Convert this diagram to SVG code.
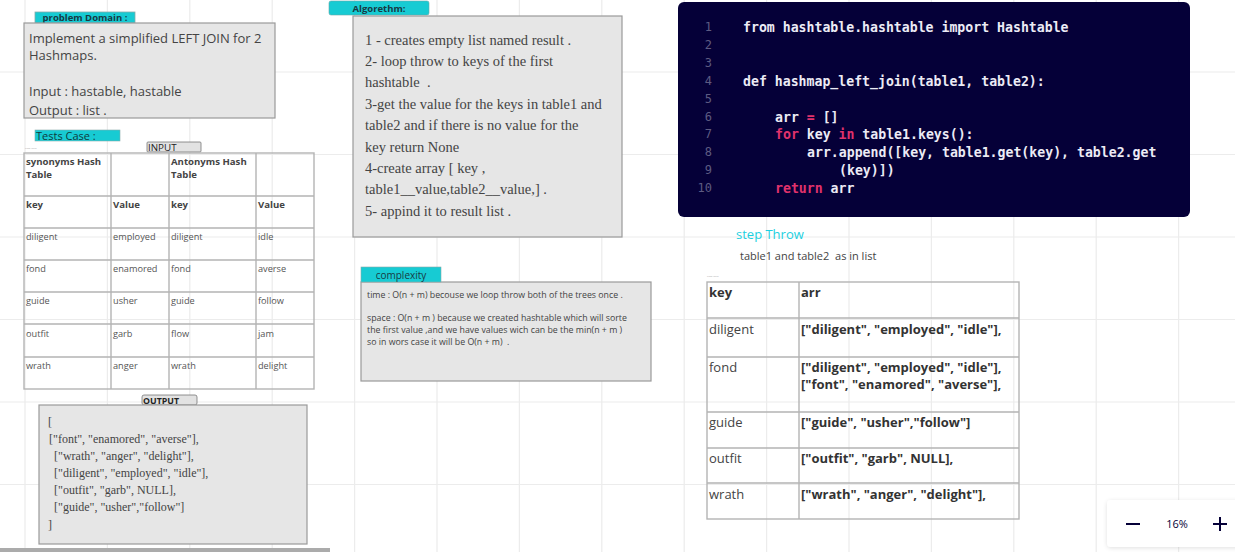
<svg xmlns="http://www.w3.org/2000/svg" width="1235" height="552" viewBox="0 0 1235 552">
<style>
.grid{stroke:#ececec;stroke-width:1.2;fill:none}
.tag{fill:#17cbd3;stroke:#8aa;stroke-width:0.8}
.tagt{font-family:"Open Sans",sans-serif;font-weight:700;font-size:9.5px;fill:#173a44;text-anchor:middle}
.box{fill:#e6e6e6;stroke:#9a9a9a;stroke-width:1.2}
.sans{font-family:"Open Sans",sans-serif;fill:#444}
.serif{font-family:"Liberation Serif",serif;fill:#444}
.cell{fill:none;stroke:#b4b4b4;stroke-width:1.4}
.t9{font-family:"Open Sans",sans-serif;font-size:9.2px;fill:#555}
.t9b{font-family:"Open Sans",sans-serif;font-size:9.6px;font-weight:700;fill:#444}
.t11{font-family:"Open Sans",sans-serif;font-size:13px;fill:#444}
.t11b{font-family:"Open Sans",sans-serif;font-size:13px;font-weight:700;fill:#333}
.code{font-family:"DejaVu Sans Mono",monospace;font-size:13.2px;font-weight:700;fill:#ecebf5}
.kw{fill:#e0326c}
.ln{font-family:"DejaVu Sans Mono",monospace;font-size:12px;fill:#5d5b82;text-anchor:end}
.tiny{font-family:"Open Sans",sans-serif;font-size:2.5px;fill:#aaa}
.lbl{fill:#e2e2e2;stroke:#777;stroke-width:0.8}
</style>
<defs>
<clipPath id="pclip"><rect x="24" y="23" width="251" height="95"/></clipPath>
<filter id="sh" x="-20%" y="-20%" width="140%" height="140%"><feDropShadow dx="0" dy="1" stdDeviation="2" flood-color="#000" flood-opacity="0.12"/></filter>
</defs>
<rect width="1235" height="552" fill="#ffffff"/>
<g id="grid">
<path class="grid" d="M25 0V552M107.4 0V552M189.8 0V552M272.2 0V552M354.6 0V552M437 0V552M519.4 0V552M601.8 0V552M684.2 0V552M766.6 0V552M849 0V552M931.4 0V552M1013.8 0V552M1096.2 0V552M1178.6 0V552M0 72H1235M0 154.5H1235M0 237H1235M0 319.5H1235M0 402H1235M0 484.5H1235"/>
</g>
<g id="connectors"></g>

<g id="problem-domain">
<rect class="tag" x="35" y="12" width="100" height="11"/>
<text class="tagt" x="85" y="20.8">problem Domain :</text>
<rect class="box" x="24" y="23" width="251" height="95"/>
<g clip-path="url(#pclip)" class="sans" font-size="13">
<text x="29" y="43">Implement a simplified LEFT JOIN for 2</text>
<text x="29" y="60">Hashmaps.</text>
<text x="29" y="96">Input : hastable, hastable</text>
<text x="29" y="115">Output : list .</text>
</g>
</g>

<g id="tests-case">
<rect x="35" y="130" width="85" height="11" fill="#17cbd3" stroke="#8aa" stroke-width="0.6"/>
<text x="36" y="140" font-family="Open Sans,sans-serif" font-size="11px" fill="#0f3a3c">Tests Case :</text>
<text class="tiny" x="25" y="149">New table</text>
</g>

<g id="input-label">
<rect class="lbl" x="147" y="142" width="54" height="10" rx="1"/>
<text x="148" y="151" font-family="Open Sans,sans-serif" font-size="9.8px" fill="#222">INPUT</text>
</g>

<g id="input-table">
<rect class="cell" x="24" y="153" width="290" height="236"/>
<path class="cell" d="M111 153V389M169 153V389M256 153V389M24 196H314M24 228H314M24 260H314M24 292H314M24 324H314M24 357H314"/>
<text class="t9b" x="26" y="165">synonyms Hash</text>
<text class="t9b" x="26" y="178">Table</text>
<text class="t9b" x="171" y="165">Antonyms Hash</text>
<text class="t9b" x="171" y="178">Table</text>
<text class="t9b" x="26" y="208">key</text>
<text class="t9b" x="113" y="208">Value</text>
<text class="t9b" x="171" y="208">key</text>
<text class="t9b" x="258" y="208">Value</text>
<text class="t9" x="26" y="240">diligent</text><text class="t9" x="113" y="240">employed</text><text class="t9" x="171" y="240">diligent</text><text class="t9" x="258" y="240">idle</text>
<text class="t9" x="26" y="272">fond</text><text class="t9" x="113" y="272">enamored</text><text class="t9" x="171" y="272">fond</text><text class="t9" x="258" y="272">averse</text>
<text class="t9" x="26" y="304">guide</text><text class="t9" x="113" y="304">usher</text><text class="t9" x="171" y="304">guide</text><text class="t9" x="258" y="304">follow</text>
<text class="t9" x="26" y="337">outfit</text><text class="t9" x="113" y="337">garb</text><text class="t9" x="171" y="337">flow</text><text class="t9" x="258" y="337">jam</text>
<text class="t9" x="26" y="369">wrath</text><text class="t9" x="113" y="369">anger</text><text class="t9" x="171" y="369">wrath</text><text class="t9" x="258" y="369">delight</text>
</g>

<g id="output-label">
<rect class="lbl" x="142" y="395" width="55" height="10" rx="2"/>
<text x="143" y="404" font-family="Open Sans,sans-serif" font-size="8.8px" font-weight="700" fill="#222">OUTPUT</text>
</g>

<g id="output">
<rect class="box" x="39" y="405" width="268" height="139"/>
<g class="serif" font-size="12" fill="#555">
<text x="48" y="426">[</text>
<text x="49" y="443">["font", "enamored", "averse"],</text>
<text x="54" y="460">["wrath", "anger", "delight"],</text>
<text x="54" y="477">["diligent", "employed", "idle"],</text>
<text x="54" y="494">["outfit", "garb", NULL],</text>
<text x="54" y="511">["guide", "usher","follow"]</text>
<text x="48" y="529">]</text>
</g>
</g>
<rect id="scrollbar" x="0" y="548" width="330" height="4" fill="#ababab"/>

<g id="algorithm">
<rect x="329" y="1" width="100" height="14" rx="2" fill="#17cbd3" stroke="#6aa" stroke-width="0.6"/>
<text class="tagt" x="379" y="11.5">Algorethm:</text>
<rect class="box" x="353" y="16" width="269" height="221"/>
<g class="serif" font-size="14.5" fill="#444">
<text x="365" y="45">1 - creates empty list named result .</text>
<text x="365" y="66">2- loop throw to keys of the first</text>
<text x="365" y="87" xml:space="preserve">hashtable  .</text>
<text x="365" y="109">3-get the value for the keys in table1 and</text>
<text x="365" y="130">table2 and if there is no value for the</text>
<text x="365" y="152">key return None</text>
<text x="365" y="173">4-create array [ key ,</text>
<text x="365" y="194">table1__value,table2__value,] .</text>
<text x="365" y="216">5- appind it to result list .</text>
</g>
</g>

<g id="complexity">
<rect class="box" x="361" y="282" width="290" height="99"/>
<rect x="361" y="267" width="80" height="15" fill="#17cbd3" stroke="#8aa" stroke-width="0.6"/>
<text x="401" y="278.5" text-anchor="middle" font-family="Open Sans,sans-serif" font-size="10px" fill="#173a44">complexity</text>
<g class="sans" font-size="8.8" fill="#333">
<text x="367" y="298">time : O(n + m) becouse we loop throw both of the trees once .</text>
<text x="367" y="321">space : O(n + m ) because we created hashtable which will sorte</text>
<text x="367" y="333">the first value ,and we have values wich can be the min(n + m )</text>
<text x="367" y="345" xml:space="preserve">so in wors case it will be O(n + m)  .</text>
</g>
</g>

<g id="code">
<rect x="678" y="2" width="512" height="215" rx="6" fill="#050038"/>
<text class="ln" x="712" y="31">1</text>
<text class="ln" x="712" y="49">2</text>
<text class="ln" x="712" y="67">3</text>
<text class="ln" x="712" y="85">4</text>
<text class="ln" x="712" y="103">5</text>
<text class="ln" x="712" y="121">6</text>
<text class="ln" x="712" y="138">7</text>
<text class="ln" x="712" y="156">8</text>
<text class="ln" x="712" y="174">9</text>
<text class="ln" x="712" y="192">10</text>
<text class="code" x="743" y="32">from hashtable.hashtable import Hashtable</text>
<text class="code" x="743" y="86">def hashmap_left_join(table1, table2):</text>
<text class="code" x="775" y="122">arr <tspan class="kw">=</tspan> []</text>
<text class="code" x="775" y="139"><tspan class="kw">for</tspan> key <tspan class="kw">in</tspan> table1.keys():</text>
<text class="code" x="807" y="157">arr.append([key, table1.get(key), table2.get</text>
<text class="code" x="839" y="175">(key)])</text>
<text class="code" x="775" y="193"><tspan class="kw">return</tspan> arr</text>
</g>

<g id="step-throw">
<text x="736" y="239" font-family="Open Sans,sans-serif" font-size="13px" fill="#1cd0e0">step Throw</text>
<text x="740" y="260" font-family="Open Sans,sans-serif" font-size="11px" fill="#444" xml:space="preserve">table1 and table2  as in list</text>
<text class="tiny" x="707" y="277">New table</text>
</g>

<g id="step-table">
<rect class="cell" x="707" y="282" width="312" height="237"/>
<path class="cell" d="M799 282V519M707 318H1019M707 357H1019M707 412H1019M707 448H1019M707 483H1019"/>
<text class="t11b" x="709" y="297">key</text>
<text class="t11b" x="801" y="297">arr</text>
<text class="t11" x="709" y="334">diligent</text>
<text class="t11b" x="801" y="334">["diligent", "employed", "idle"],</text>
<text class="t11" x="709" y="372">fond</text>
<text class="t11b" x="801" y="372">["diligent", "employed", "idle"],</text>
<text class="t11b" x="801" y="389">["font", "enamored", "averse"],</text>
<text class="t11" x="709" y="427">guide</text>
<text class="t11b" x="801" y="427">["guide", "usher","follow"]</text>
<text class="t11" x="709" y="463">outfit</text>
<text class="t11b" x="801" y="463">["outfit", "garb", NULL],</text>
<text class="t11" x="709" y="499">wrath</text>
<text class="t11b" x="801" y="499">["wrath", "anger", "delight"],</text>
</g>

<g id="zoom-control">
<rect x="1107" y="500" width="140" height="47" rx="4" fill="#ffffff" filter="url(#sh)"/>
<path d="M1126 524H1140M1213 524H1227M1220 517V531" stroke="#050038" stroke-width="2"/>
<text x="1177" y="528" text-anchor="middle" font-family="Open Sans,sans-serif" font-size="11px" fill="#050038">16%</text>
</g>
</svg>
